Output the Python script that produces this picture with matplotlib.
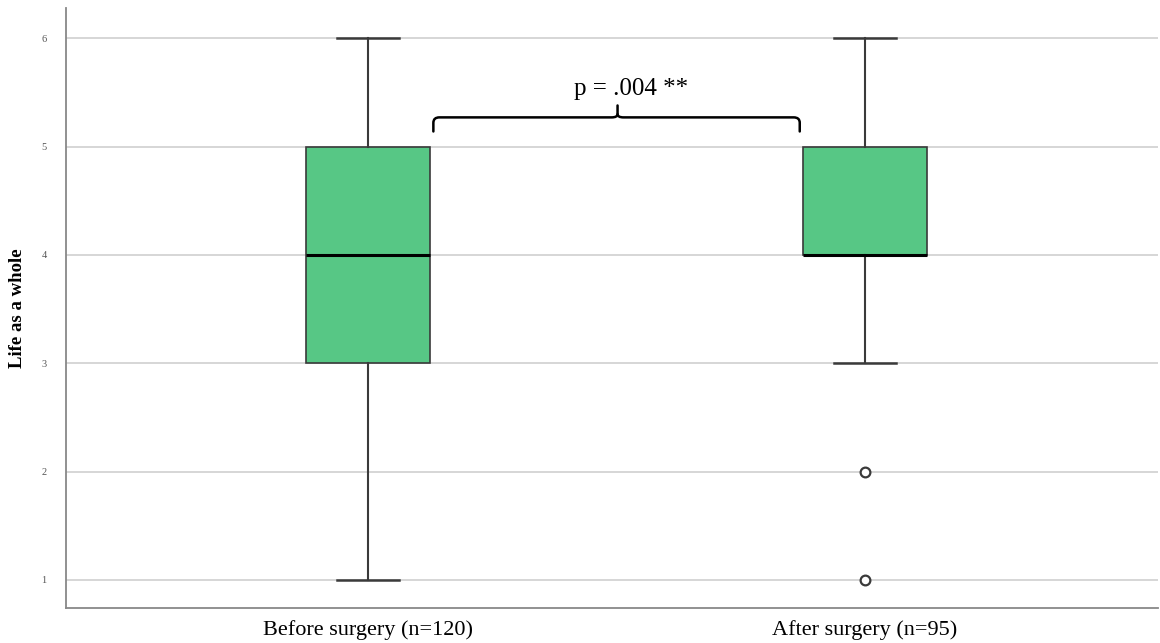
import matplotlib
matplotlib.use("Agg")
import matplotlib.pyplot as plt
from matplotlib.path import Path
from matplotlib.patches import PathPatch

groups = ["Before surgery (n=120)", "After surgery (n=95)"]
whisker_low = [1, 3]
q1 = [3, 4]
median = [4, 4]
q3 = [5, 5]
whisker_high = [6, 6]
outliers = [[], [2, 1]]
y_ticks = [1, 2, 3, 4, 5, 6]
y_label = "Life as a whole"
p_text = "p = .004 **"

plt.rcParams['font.family'] = ['Liberation Serif', 'DejaVu Serif']

fig = plt.figure(figsize=(11.6, 6.43), dpi=100)
ax = fig.add_axes([66/1160, 1-608/643, 1 - 66/1160 - 0.002, 600/643])

stats = []
for i, g in enumerate(groups):
    stats.append(dict(label=g, whislo=whisker_low[i], q1=q1[i], med=median[i],
                      q3=q3[i], whishi=whisker_high[i], fliers=outliers[i]))

edge = "#3a3a3a"
ax.bxp(stats, positions=[0, 1], widths=0.25, patch_artist=True,
       showfliers=True,
       boxprops=dict(facecolor="#57C785", edgecolor=edge, linewidth=1.2),
       medianprops=dict(color="black", linewidth=2.2),
       whiskerprops=dict(color=edge, linewidth=1.5),
       capprops=dict(color=edge, linewidth=1.8),
       capwidths=0.125,
       flierprops=dict(marker="o", markerfacecolor="white", markeredgecolor=edge,
                       markersize=7, markeredgewidth=1.6))

ax.set_xlim(-0.609, 1.59)
ax.set_ylim(0.74, 6.28)
ax.set_yticks(y_ticks)
ax.set_yticklabels([str(t) for t in y_ticks], fontsize=7.5, color="#555555")
ax.tick_params(axis='y', length=0, pad=14)
ax.tick_params(axis='x', length=0, pad=9, labelsize=16)
ax.yaxis.grid(True, color="#d0d0d0", linewidth=1.2)
ax.set_axisbelow(True)
for s in ["top", "right"]:
    ax.spines[s].set_visible(False)
for s in ["left", "bottom"]:
    ax.spines[s].set_color("#888888")
    ax.spines[s].set_linewidth(1.3)
ax.set_ylabel(y_label, fontsize=13.5, fontweight="bold")
ax.yaxis.set_label_coords(-40/1094, 0.5)

# curly brace annotation
xl, xr, xm = 0.131, 0.869, 0.502
yb, yh, yt = 5.14, 5.27, 5.38
dx = 0.012
dy = 0.05
verts = [(xl, yb), (xl, yh - dy), (xl, yh), (xl + dx, yh),
         (xm - dx, yh), (xm, yh), (xm, yh + dy * 0.6), (xm, yt)]
codes = [Path.MOVETO, Path.LINETO, Path.CURVE3, Path.CURVE3,
         Path.LINETO, Path.CURVE3, Path.CURVE3, Path.LINETO]
verts2 = [(xr, yb), (xr, yh - dy), (xr, yh), (xr - dx, yh),
          (xm + dx, yh), (xm, yh), (xm, yh + dy * 0.6)]
codes2 = [Path.MOVETO, Path.LINETO, Path.CURVE3, Path.CURVE3,
          Path.LINETO, Path.CURVE3, Path.CURVE3]
for v, c in [(verts, codes), (verts2, codes2)]:
    ax.add_patch(PathPatch(Path(v, c), facecolor="none", edgecolor="black",
                           linewidth=1.8, capstyle="round"))
ax.text(0.53, 5.53, p_text, ha="center", va="center", fontsize=18)

fig.savefig("out.png", dpi=100)
